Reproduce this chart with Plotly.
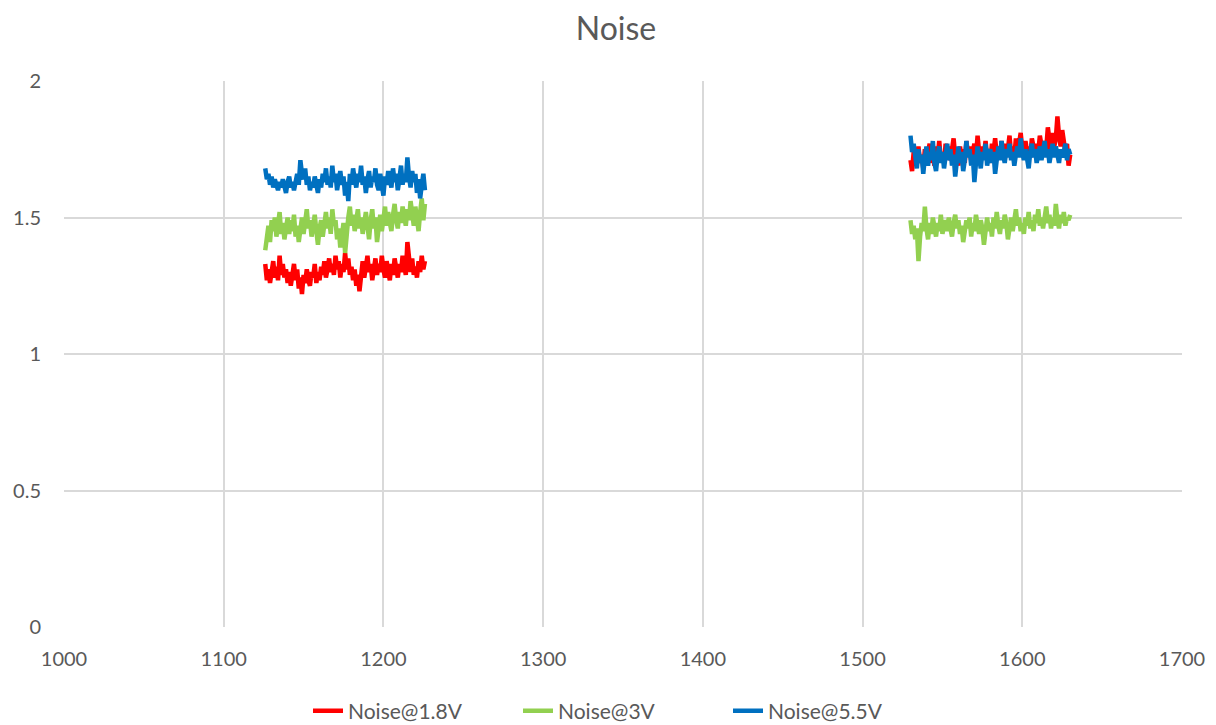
import plotly.graph_objects as go

# two measurement windows, step 1
x_start_1 = 1126
x_start_2 = 1530

red_c1 = [1.33,1.27,1.31,1.26,1.30,1.34,1.28,1.32,1.27,1.36,1.29,1.33,1.28,1.31,1.26,1.30,1.25,1.29,1.33,1.27,1.31,1.24,1.28,1.22,1.29,1.26,1.31,1.27,1.25,1.30,1.28,1.33,1.26,1.30,1.27,1.32,1.29,1.34,1.28,1.31,1.35,1.30,1.33,1.29,1.36,1.31,1.34,1.28,1.33,1.30,1.37,1.31,1.35,1.29,1.32,1.27,1.31,1.25,1.29,1.23,1.30,1.34,1.28,1.32,1.36,1.30,1.33,1.27,1.31,1.35,1.29,1.33,1.30,1.36,1.31,1.28,1.34,1.30,1.27,1.33,1.29,1.35,1.31,1.28,1.33,1.30,1.36,1.32,1.29,1.41,1.33,1.30,1.35,1.29,1.32,1.28,1.34,1.30,1.36,1.31,1.34]
green_c1 = [1.38,1.43,1.47,1.41,1.49,1.45,1.50,1.43,1.47,1.52,1.44,1.48,1.42,1.46,1.50,1.44,1.49,1.45,1.51,1.43,1.47,1.41,1.46,1.50,1.44,1.48,1.53,1.46,1.49,1.43,1.47,1.51,1.45,1.40,1.46,1.49,1.43,1.48,1.52,1.46,1.50,1.44,1.53,1.47,1.49,1.42,1.46,1.39,1.44,1.48,1.37,1.45,1.50,1.54,1.47,1.51,1.45,1.49,1.53,1.46,1.50,1.44,1.48,1.52,1.47,1.42,1.49,1.53,1.46,1.50,1.41,1.48,1.51,1.45,1.49,1.54,1.47,1.52,1.48,1.45,1.51,1.55,1.49,1.46,1.52,1.48,1.54,1.50,1.47,1.53,1.49,1.56,1.51,1.47,1.54,1.50,1.45,1.52,1.57,1.49,1.55]
blue_c1 = [1.68,1.64,1.66,1.62,1.65,1.61,1.64,1.62,1.60,1.63,1.61,1.64,1.62,1.59,1.63,1.65,1.61,1.63,1.60,1.64,1.66,1.62,1.71,1.66,1.64,1.68,1.62,1.65,1.60,1.63,1.61,1.65,1.62,1.59,1.64,1.61,1.66,1.63,1.68,1.62,1.65,1.61,1.69,1.63,1.66,1.60,1.64,1.67,1.62,1.65,1.58,1.63,1.56,1.66,1.62,1.68,1.64,1.61,1.66,1.63,1.69,1.62,1.65,1.59,1.64,1.67,1.61,1.65,1.63,1.68,1.62,1.60,1.66,1.63,1.58,1.65,1.62,1.67,1.64,1.61,1.68,1.63,1.66,1.60,1.64,1.69,1.62,1.66,1.63,1.72,1.65,1.61,1.67,1.63,1.66,1.59,1.64,1.57,1.62,1.66,1.60]

red_c2 = [1.71,1.67,1.74,1.69,1.72,1.76,1.70,1.73,1.68,1.75,1.71,1.74,1.77,1.70,1.73,1.69,1.76,1.72,1.78,1.71,1.74,1.70,1.77,1.73,1.76,1.71,1.75,1.79,1.72,1.74,1.69,1.76,1.72,1.75,1.70,1.78,1.73,1.76,1.71,1.74,1.77,1.72,1.80,1.74,1.71,1.76,1.73,1.78,1.72,1.75,1.70,1.77,1.74,1.79,1.73,1.76,1.72,1.78,1.74,1.71,1.77,1.75,1.80,1.73,1.76,1.72,1.79,1.74,1.77,1.81,1.75,1.72,1.78,1.74,1.76,1.72,1.79,1.75,1.73,1.77,1.74,1.80,1.76,1.73,1.78,1.75,1.83,1.77,1.74,1.81,1.76,1.79,1.87,1.80,1.76,1.82,1.78,1.74,1.77,1.69,1.73]
green_c2 = [1.49,1.44,1.47,1.42,1.46,1.34,1.43,1.48,1.45,1.54,1.46,1.42,1.48,1.44,1.50,1.46,1.43,1.48,1.45,1.51,1.44,1.47,1.49,1.45,1.50,1.46,1.43,1.48,1.51,1.46,1.49,1.44,1.47,1.41,1.45,1.49,1.46,1.50,1.43,1.48,1.45,1.51,1.47,1.44,1.49,1.46,1.40,1.47,1.50,1.45,1.48,1.43,1.50,1.46,1.52,1.47,1.44,1.49,1.46,1.51,1.48,1.42,1.47,1.50,1.45,1.49,1.53,1.47,1.50,1.45,1.48,1.44,1.50,1.47,1.52,1.46,1.49,1.45,1.51,1.48,1.53,1.47,1.50,1.46,1.49,1.54,1.48,1.51,1.46,1.50,1.47,1.55,1.49,1.46,1.51,1.48,1.52,1.47,1.50,1.49,1.51]
blue_c2 = [1.80,1.74,1.77,1.71,1.68,1.75,1.70,1.73,1.66,1.72,1.76,1.69,1.74,1.71,1.78,1.70,1.67,1.73,1.76,1.70,1.74,1.68,1.72,1.77,1.71,1.75,1.69,1.73,1.65,1.72,1.76,1.70,1.74,1.67,1.71,1.78,1.72,1.75,1.69,1.73,1.63,1.70,1.76,1.72,1.68,1.74,1.71,1.77,1.69,1.73,1.75,1.70,1.74,1.66,1.72,1.76,1.71,1.78,1.73,1.70,1.75,1.72,1.77,1.71,1.74,1.69,1.73,1.76,1.72,1.79,1.74,1.71,1.75,1.72,1.68,1.74,1.77,1.72,1.75,1.70,1.73,1.76,1.71,1.74,1.78,1.72,1.75,1.70,1.74,1.77,1.72,1.76,1.73,1.70,1.75,1.72,1.74,1.77,1.71,1.75,1.73]

series_names = ["Noise@1.8V", "Noise@3V", "Noise@5.5V"]
colors = ["#FF0000", "#92D050", "#0070C0"]
x_ticks = [1000, 1100, 1200, 1300, 1400, 1500, 1600, 1700]
y_ticks = [0, 0.5, 1, 1.5, 2]
y_tick_text = ["0", "0.5", "1", "1.5", "2"]

segments = [(red_c1, red_c2), (green_c1, green_c2), (blue_c1, blue_c2)]

fig = go.Figure()
for name, col, (s1, s2) in zip(series_names, colors, segments):
    xs = [x_start_1 + i for i in range(len(s1))] + [None] + [x_start_2 + i for i in range(len(s2))]
    ys = s1 + [None] + s2
    fig.add_trace(go.Scatter(x=xs, y=ys, mode="lines", name=name,
                             line=dict(color=col, width=4.5), connectgaps=False))

fig.update_layout(
    width=1216, height=725,
    paper_bgcolor="white", plot_bgcolor="white",
    font=dict(family="Lato, Open Sans, sans-serif", color="#595959", size=20),
    title=dict(text="Noise", x=0.5, xanchor="center", y=0.971, yanchor="middle",
               font=dict(size=32, color="#595959")),
    margin=dict(l=56, r=42, t=73, b=106, autoexpand=False),
    showlegend=True,
    legend=dict(orientation="h", x=0.5, xanchor="center", y=-0.154, yanchor="middle",
                font=dict(size=21, color="#595959"), entrywidth=165,
                entrywidthmode="pixels"),
    xaxis=dict(range=[1000, 1700], tickvals=x_ticks, showgrid=True, gridcolor="#D9D9D9",
               gridwidth=1.5, zeroline=False, showline=False, automargin=False,
               ticks="outside", ticklen=14, tickcolor="rgba(0,0,0,0)",
               tickfont=dict(size=20, color="#595959")),
    yaxis=dict(range=[0, 2], tickvals=y_ticks, ticktext=y_tick_text, showgrid=True,
               gridcolor="#D9D9D9", gridwidth=1.5, zeroline=False, showline=False,
               automargin=False, ticks="outside", ticklen=18, tickcolor="rgba(0,0,0,0)",
               tickfont=dict(size=20, color="#595959")),
)
fig.write_html("out.html")
